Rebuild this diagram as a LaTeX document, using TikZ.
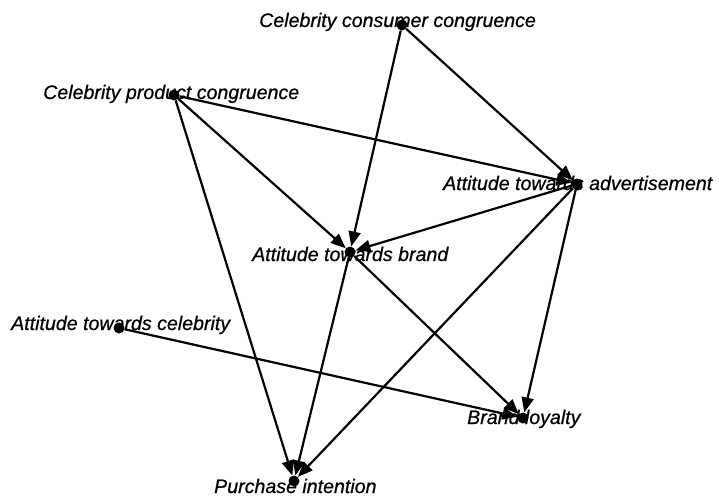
\documentclass[tikz,border=0pt]{standalone}
\usepackage{fontspec}
\setmainfont{Liberation Sans}
\newfontface\lblfont{Liberation Sans Italic}[FakeBold=0.7]
\usetikzlibrary{arrows.meta}

\begin{document}
\begin{tikzpicture}[x=1pt, y=-1pt,
      every node/.style={font=\fontsize{19.6}{21}\lblfont},
      dot/.style={circle, fill=black, inner sep=0pt, minimum size=11pt},
      lbl/.style={anchor=base west, inner sep=0pt},
      arr/.style={-{Triangle[length=15pt, width=12pt]}, line width=2.2pt}]
    \useasboundingbox (0,0) rectangle (719,497);
    % points of the network
    \node[dot] (ccc) at (402,25) {};
    \node[dot] (cpc) at (174,95) {};
    \node[dot] (ata) at (577,184) {};
    \node[dot] (atb) at (350,252) {};
    \node[dot] (atc) at (119,328) {};
    \node[dot] (bl)  at (523,418) {};
    \node[dot] (pi)  at (294,481) {};
    % labels
    \node[lbl] (ccctxt) at (259,27)  {Celebrity consumer congruence};
    \node[lbl] (cpctxt) at (43,99)   {Celebrity product congruence};
    \node[lbl] (atatxt) at (443,190) {Attitude towards advertisement};
    \node[lbl] (atbtxt) at (252,261) {Attitude towards brand};
    \node[lbl] (atctxt) at (11,330)  {Attitude towards celebrity};
    \node[lbl] (bltxt)  at (467,424) {Brand loyalty};
    \node[lbl] (pitxt)  at (214,493) {Purchase intention};
    % paths
    \draw[arr] (ccc) -- (atb);
    \draw[arr] (ccc) -- (ata);
    \draw[arr] (cpc) -- (ata);
    \draw[arr] (cpc) -- (atb);
    \draw[arr] (cpc) -- (pi);
    \draw[arr] (ata) -- (atb);
    \draw[arr] (ata) -- (bl);
    \draw[arr] (ata) -- (pi);
    \draw[arr] (atb) -- (bl);
    \draw[arr] (atb) -- (pi);
    \draw[arr] (atc) -- (bl);
  \end{tikzpicture}
\end{document}
